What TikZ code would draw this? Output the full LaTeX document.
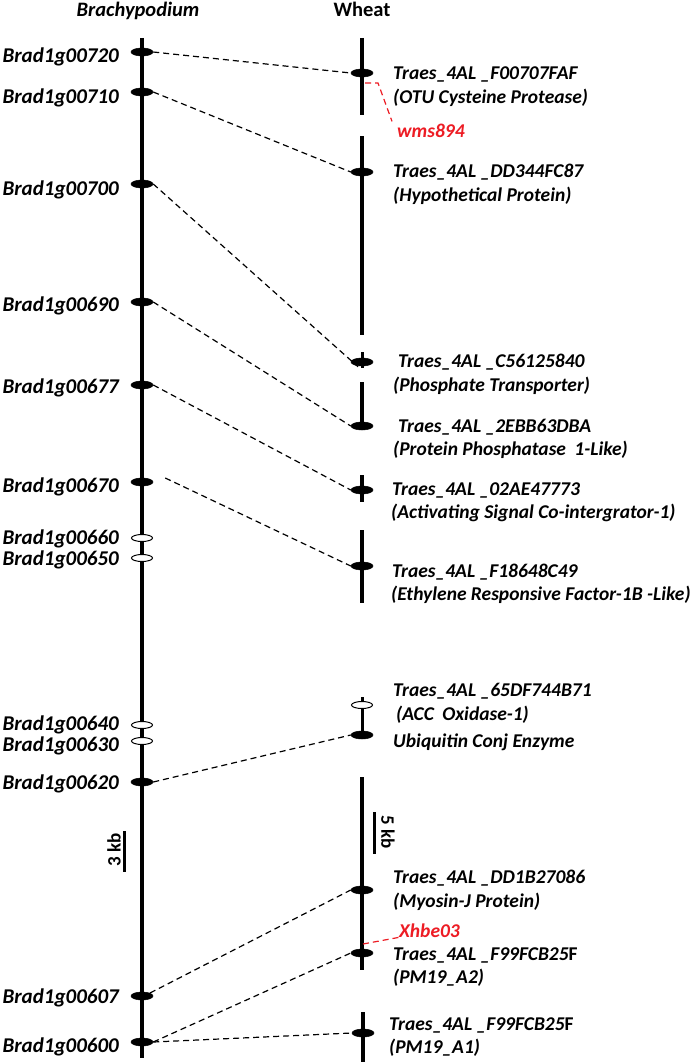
\documentclass[tikz,border=0pt]{standalone}
\usepackage{fontspec}
\setmainfont{Carlito}
\usetikzlibrary{shapes.geometric}
\definecolor{mred}{RGB}{237,28,36}
\begin{document}
\begin{tikzpicture}[x=1pt,y=-1pt,
  chrom/.style={line width=4pt},
  tickline/.style={line width=3pt},
  fmark/.style={ellipse,fill=black,draw=black,line width=0.5pt,minimum width=22pt,minimum height=8pt,inner sep=0pt},
  omark/.style={ellipse,fill=white,draw=black,line width=1pt,minimum width=21pt,minimum height=7pt,inner sep=0pt},
  link/.style={dash pattern=on 6pt off 4pt,line width=1.2pt},
  rlink/.style={link,draw=mred},
  blab/.style={anchor=base east,inner sep=0pt,font=\fontsize{21}{24}\selectfont\bfseries\itshape},
  wlab/.style={anchor=base west,inner sep=0pt,font=\fontsize{19.5}{24}\selectfont\bfseries\itshape},
  head/.style={anchor=base,inner sep=0pt,font=\fontsize{20.5}{24}\selectfont\bfseries},
  scal/.style={inner sep=0pt,font=\fontsize{19}{24}\selectfont\bfseries},
]
\useasboundingbox (0,0) rectangle (693,1062);
\fill[white] (0,0) rectangle (693,1062);

% headers
\node[head,font=\fontsize{20.5}{24}\selectfont\bfseries\itshape] (hb) at (138,17) {Brachypodium};
\node[head] (hw) at (362,17) {Wheat};

% Brachypodium chromosome
\draw[chrom] (142,38) -- (142,1058);

% wheat segments
\draw[chrom] (362,38) -- (362,115);
\draw[chrom] (362,136) -- (362,335);
\draw[tickline] (362,352) -- (362,368);
\draw[chrom] (362,382) -- (362,426);
\draw[chrom] (362,475) -- (362,502);
\draw[chrom] (362,530) -- (362,603);
\draw[tickline] (362,697) -- (362,735);
\draw[chrom] (362,777) -- (362,970);
\draw[chrom] (363,1012) -- (363,1062);

% scale bars
\draw[line width=3pt] (124,831) -- (124,872);
\node[scal,rotate=90] (s3) at (114,850) {3 kb};
\draw[line width=3pt] (374,812) -- (374,854);
\node[scal,rotate=-90] (s5) at (388,832) {5 kb};

% Brachypodium markers
\node[fmark] (b720) at (142,52) {};
\node[fmark] (b710) at (142,92) {};
\node[fmark] (b700) at (142,184) {};
\node[fmark] (b690) at (142,302) {};
\node[fmark] (b677) at (142,385) {};
\node[fmark] (b670) at (142,482) {};
\node[omark] (b660) at (142,538) {};
\node[omark] (b650) at (142,558) {};
\node[omark] (b640) at (142,725) {};
\node[omark] (b630) at (142,741) {};
\node[fmark] (b620) at (142,782) {};
\node[fmark] (b607) at (142,996) {};
\node[fmark] (b600) at (142,1042) {};

% Brachypodium labels
\node[blab] (lb720) at (119,63) {Brad1g00720};
\node[blab] (lb710) at (119,103) {Brad1g00710};
\node[blab] (lb700) at (119,195) {Brad1g00700};
\node[blab] (lb690) at (119,311) {Brad1g00690};
\node[blab] (lb677) at (119,393) {Brad1g00677};
\node[blab] (lb670) at (119,492) {Brad1g00670};
\node[blab] (lb660) at (119,544) {Brad1g00660};
\node[blab] (lb650) at (119,565) {Brad1g00650};
\node[blab] (lb640) at (119,730) {Brad1g00640};
\node[blab] (lb630) at (119,751) {Brad1g00630};
\node[blab] (lb620) at (119,789) {Brad1g00620};
\node[blab] (lb607) at (119,1003) {Brad1g00607};
\node[blab] (lb600) at (119,1052) {Brad1g00600};

% wheat markers
\node[fmark] (w1) at (362,73) {};
\node[fmark] (w2) at (362,172) {};
\node[fmark] (w3) at (362,362) {};
\node[fmark] (w4) at (362,426) {};
\node[fmark] (w5) at (362,490) {};
\node[fmark] (w6) at (362,566) {};
\node[omark] (w7) at (362,705) {};
\node[fmark] (w8) at (362,735) {};
\node[fmark] (w9) at (362,890) {};
\node[fmark] (w10) at (362,953) {};
\node[fmark] (w11) at (363,1033) {};

% wheat labels
\node[wlab] (t1a) at (393,80) {Traes\_4AL \_F00707FAF};
\node[wlab] (t1b) at (393,103) {(OTU Cysteine Protease)};
\node[wlab] (t2a) at (393,177) {Traes\_4AL \_DD344FC87};
\node[wlab] (t2b) at (393,201) {(Hypothetical Protein)};
\node[wlab] (t3a) at (398,367) {Traes\_4AL \_C56125840};
\node[wlab] (t3b) at (393,391) {(Phosphate Transporter)};
\node[wlab] (t4a) at (398,432) {Traes\_4AL \_2EBB63DBA};
\node[wlab] (t4b) at (393,455) {(Protein Phosphatase\hspace{4pt} 1-Like)};
\node[wlab] (t5a) at (392,495) {Traes\_4AL \_02AE47773};
\node[wlab] (t5b) at (391,518) {(Activating Signal Co-intergrator-1)};
\node[wlab] (t6a) at (392,577) {Traes\_4AL \_F18648C49};
\node[wlab] (t6b) at (391,600) {(Ethylene Responsive Factor-1B -Like)};
\node[wlab] (t7a) at (393,696) {Traes\_4AL \_65DF744B71};
\node[wlab] (t7b) at (396,720) {(ACC\hspace{4pt} Oxidase-1)};
\node[wlab] (t8a) at (393,747) {Ubiquitin Conj Enzyme};
\node[wlab] (t9a) at (393,883) {Traes\_4AL \_DD1B27086};
\node[wlab] (t9b) at (393,907) {(Myosin-J Protein)};
\node[wlab] (t10a) at (393,960) {Traes\_4AL \_F99FCB25{\upshape F}};
\node[wlab] (t10b) at (393,983) {(PM19\_A2)};
\node[wlab] (t11a) at (389,1030) {Traes\_4AL \_F99FCB25{\upshape F}};
\node[wlab] (t11b) at (389,1053) {(PM19\_A1)};

% red markers
\node[wlab,text=mred] (wms) at (397,137) {wms894};
\node[wlab,text=mred] (xhbe) at (399,937) {Xhbe03};
\coordinate (r1) at (365,83);
\coordinate (r2) at (363,944);
\draw[rlink] (r1) -- ++(13,0) -- ([xshift=-5pt,yshift=2pt]wms.north west);
\draw[rlink] (r2) -- (xhbe.south west);

% homology links
\draw[link] (b720.east) -- (w1.west);
\draw[link] (b710.east) -- (w2.west);
\draw[link] (b700.east) -- ([xshift=-4pt,yshift=-9pt]w3.north);
\draw[link] (b690.east) -- (w4.west);
\draw[link] ([xshift=12pt,yshift=4pt]b670.east) -- (w6.west);
\draw[link] (b677.east) -- (w5.west);
\draw[link] (b620.east) -- (w8.west);
\draw[link] (b607.north east) -- (w9.west);
\draw[link] (b600.east) -- (w10.west);
\draw[link] (b600.east) -- (w11.west);
\end{tikzpicture}
\end{document}
